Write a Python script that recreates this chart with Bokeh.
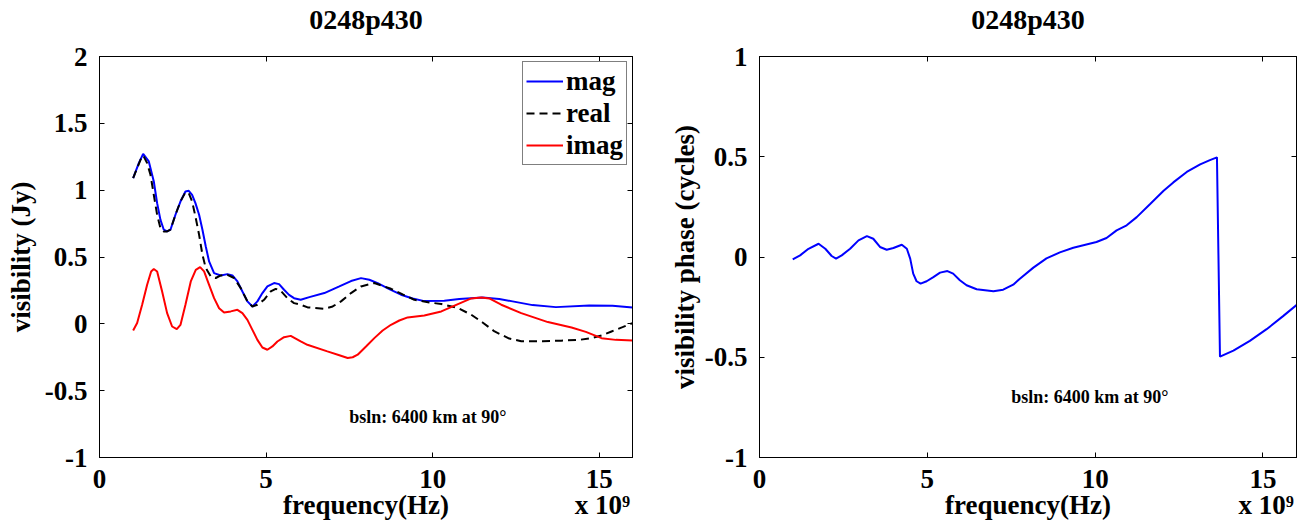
from bokeh.plotting import figure
from bokeh.layouts import row
from bokeh.models import FixedTicker, LinearAxis, Label
from bokeh.embed import file_html
from bokeh.resources import INLINE

# ---------------- data (frequency in units of 1e9 Hz) ----------------
mag_f = [1.01, 1.18, 1.31, 1.48, 1.63, 1.73, 1.83, 1.93, 2.03, 2.13, 2.28, 2.43, 2.58, 2.68, 2.78,
         2.88, 2.99, 3.09, 3.19, 3.29, 3.44, 3.64, 3.84, 3.99, 4.14, 4.29, 4.44, 4.59, 4.74, 4.89,
         5.04, 5.24, 5.39, 5.54, 5.69, 5.84, 6.04, 6.3, 6.75, 7.2, 7.55, 7.85, 8.1, 8.35, 8.7, 9.05,
         9.4, 9.75, 10.35, 10.8, 11.5, 12.0, 12.4, 13.0, 13.7, 14.7, 15.4, 16.0]
mag_v = [1.09, 1.202, 1.272, 1.215, 1.065, 0.903, 0.778, 0.704, 0.691, 0.704, 0.816, 0.915, 0.99, 0.995, 0.965,
         0.903, 0.816, 0.704, 0.579, 0.467, 0.379, 0.362, 0.372, 0.362, 0.317, 0.242, 0.168, 0.13, 0.168, 0.23,
         0.28, 0.305, 0.297, 0.255, 0.217, 0.192, 0.18, 0.2, 0.23, 0.28, 0.32, 0.342, 0.33, 0.305, 0.26, 0.218,
         0.19, 0.17, 0.173, 0.185, 0.197, 0.185, 0.168, 0.14, 0.125, 0.137, 0.135, 0.123]

real_f = [1.01, 1.23, 1.31, 1.43, 1.53, 1.63, 1.73, 1.83, 1.93, 2.03, 2.13, 2.28, 2.43, 2.58, 2.68,
          2.78, 2.88, 2.99, 3.09, 3.19, 3.34, 3.49, 3.64, 3.84, 4.04, 4.24, 4.44, 4.59, 4.74, 4.94,
          5.14, 5.29, 5.44, 5.64, 5.84, 6.04, 6.25, 6.75, 7.0, 7.25, 7.55, 7.85, 8.25, 8.75, 9.1,
          9.45, 9.9, 10.26, 10.76, 11.16, 11.5, 11.86, 12.3, 12.66, 13.3, 13.86, 14.4, 14.77, 15.1,
          15.37, 15.7, 16.0]
real_v = [1.09, 1.227, 1.26, 1.202, 1.115, 0.965, 0.816, 0.716, 0.691, 0.691, 0.704, 0.816, 0.915, 0.985, 0.978,
          0.915, 0.803, 0.666, 0.517, 0.417, 0.355, 0.343, 0.362, 0.367, 0.343, 0.267, 0.168, 0.13, 0.143, 0.18,
          0.242, 0.262, 0.247, 0.192, 0.155, 0.143, 0.123, 0.113, 0.13, 0.168, 0.23, 0.28, 0.305, 0.262, 0.22,
          0.18, 0.16, 0.148, 0.118, 0.068, 0.01, -0.057, -0.11, -0.13, -0.13, -0.126, -0.12, -0.107, -0.085,
          -0.057, -0.025, 0.005]

imag_f = [1.01, 1.13, 1.28, 1.43, 1.55, 1.63, 1.73, 1.88, 2.03, 2.18, 2.32, 2.43, 2.58, 2.74, 2.89,
          3.02, 3.14, 3.29, 3.44, 3.59, 3.74, 3.94, 4.14, 4.29, 4.44, 4.59, 4.74, 4.89, 5.04, 5.19,
          5.34, 5.54, 5.74, 6.04, 6.24, 6.84, 7.2, 7.45, 7.6, 7.75, 8.0, 8.25, 8.5, 8.75, 9.0, 9.25,
          9.75, 10.26, 10.76, 11.16, 11.46, 11.7, 12.06, 12.66, 13.46, 14.17, 14.6, 15.07, 15.5, 16.0]
imag_v = [-0.05, 0.006, 0.143, 0.292, 0.392, 0.41, 0.392, 0.242, 0.08, -0.02, -0.04, -0.008, 0.143, 0.317, 0.404,
          0.424, 0.392, 0.292, 0.192, 0.117, 0.085, 0.093, 0.105, 0.08, 0.03, -0.045, -0.12, -0.177, -0.194, -0.169,
          -0.132, -0.1, -0.09, -0.132, -0.157, -0.206, -0.235, -0.256, -0.25, -0.231, -0.17, -0.107, -0.05, -0.007,
          0.025, 0.048, 0.063, 0.093, 0.148, 0.19, 0.197, 0.19, 0.143, 0.08, 0.013, -0.027, -0.06, -0.107, -0.12, -0.124]

phase_f = [0.99, 1.21, 1.46, 1.76, 1.96, 2.15, 2.28, 2.45, 2.7, 2.95, 3.2, 3.39, 3.59, 3.79, 3.99, 4.24,
           4.39, 4.49, 4.58, 4.68, 4.8, 4.98, 5.18, 5.38, 5.6, 5.77, 5.97, 6.17, 6.47, 6.97, 7.26, 7.56,
           7.74, 8.16, 8.55, 8.95, 9.35, 9.65, 10.04, 10.34, 10.64, 10.94, 11.24, 11.64, 12.04, 12.33,
           12.73, 13.13, 13.42, 13.63, 13.72, 14.12, 14.61, 15.11, 15.6, 16.0]
phase_v = [-0.012, 0.008, 0.041, 0.066, 0.041, 0.005, -0.008, 0.008, 0.041, 0.083, 0.104, 0.091, 0.05, 0.036,
           0.045, 0.061, 0.041, -0.008, -0.083, -0.121, -0.133, -0.121, -0.1, -0.078, -0.07, -0.083, -0.116,
           -0.141, -0.161, -0.171, -0.163, -0.138, -0.111, -0.053, -0.007, 0.023, 0.046, 0.059, 0.075, 0.095,
           0.133, 0.158, 0.199, 0.264, 0.33, 0.372, 0.424, 0.462, 0.483, 0.497, -0.497, -0.467, -0.418, -0.36,
           -0.295, -0.24]

x_ticks = [0, 5, 10, 15]
x_tick_labels = ["0", "5", "10", "15"]
left_y_ticks = [-1, -0.5, 0, 0.5, 1, 1.5, 2]
left_y_labels = ["-1", "-0.5", "0", "0.5", "1", "1.5", "2"]
right_y_ticks = [-1, -0.5, 0, 0.5, 1]
right_y_labels = ["-1", "-0.5", "0", "0.5", "1"]

title_text = "0248p430"
title_pos = 8.0
note_text = "bsln: 6400 km at 90\u00b0"
x_label_text = "frequency(Hz)"
x_label_pos = 8.0
x_scale_text = "x 10\u2079"
x_scale_pos = 15.1

FONT = "Liberation Serif"
FS = "27px"


def text_axis(labels, size, standoff):
    ticks = list(labels.keys())
    ax = LinearAxis(ticker=FixedTicker(ticks=ticks))
    ax.major_label_overrides = labels
    ax.major_label_text_font = FONT
    ax.major_label_text_font_size = size
    ax.major_label_text_font_style = "bold"
    ax.major_label_text_color = "black"
    ax.major_label_standoff = standoff
    ax.major_tick_in = 0
    ax.major_tick_out = 0
    ax.minor_tick_in = 0
    ax.minor_tick_out = 0
    ax.axis_line_color = None
    ax.major_tick_line_color = None
    ax.minor_tick_line_color = None
    return ax


def style(p, yticks, ylabels, ylabel, ylabel_standoff):
    p.xgrid.visible = False
    p.ygrid.visible = False
    p.outline_line_color = "black"
    p.outline_line_width = 1
    p.outline_line_alpha = 1
    p.background_fill_color = "white"
    p.border_fill_color = "white"

    for ax, ticks, labels in ((p.xaxis[0], x_ticks, x_tick_labels), (p.yaxis[0], yticks, ylabels)):
        ax.ticker = FixedTicker(ticks=ticks)
        ax.major_label_overrides = {t: l for t, l in zip(ticks, labels)}
        ax.major_tick_in = 5
        ax.major_tick_out = 0
        ax.minor_tick_in = 0
        ax.minor_tick_out = 0
        ax.axis_line_color = "black"
        ax.major_tick_line_color = "black"
        ax.major_label_text_font = FONT
        ax.major_label_text_font_size = FS
        ax.major_label_text_font_style = "bold"
        ax.major_label_text_color = "black"
        ax.axis_label_text_font = FONT
        ax.axis_label_text_font_size = FS
        ax.axis_label_text_font_style = "bold"
        ax.axis_label_text_color = "black"
    p.yaxis[0].axis_label = ylabel
    p.xaxis[0].major_label_standoff = 12
    p.yaxis[0].major_label_standoff = 12
    p.yaxis[0].axis_label_standoff = ylabel_standoff

    # row below the tick labels: axis title and the "x 10^9" scale note
    p.add_layout(text_axis({x_label_pos: x_label_text, x_scale_pos: x_scale_text}, FS, -1), "below")

    # box ticks on top and right
    for loc, ticks in (("above", x_ticks), ("right", yticks)):
        ax = LinearAxis(ticker=FixedTicker(ticks=ticks))
        ax.major_label_overrides = {t: "" for t in ticks}
        ax.major_label_text_font_size = "1px"
        ax.major_label_standoff = 0
        ax.major_tick_in = 5
        ax.major_tick_out = 0
        ax.minor_tick_in = 0
        ax.minor_tick_out = 0
        ax.axis_line_color = "black"
        ax.major_tick_line_color = "black"
        p.add_layout(ax, loc)

    # chart title, drawn as a text row above the frame
    p.add_layout(text_axis({title_pos: title_text}, "28px", 22), "above")

    p.add_layout(Label(x=7.5, y=-0.7, text=note_text, text_font=FONT, text_font_size="18px",
                       text_font_style="bold", text_baseline="middle", text_align="left",
                       text_color="black"))


p1 = figure(frame_width=533, frame_height=401, x_range=(0, 16), y_range=(-1, 2),
            output_backend="svg", toolbar_location=None,
            min_border_left=99, min_border_right=27, min_border_top=55, min_border_bottom=75)
style(p1, left_y_ticks, left_y_labels, "visibility (Jy)", 6)
p1.line(mag_f, mag_v, line_color="#0000ff", line_width=2, legend_label="mag")
p1.line(real_f, real_v, line_color="black", line_width=2, line_dash="8 5", legend_label="real")
p1.line(imag_f, imag_v, line_color="#ff0000", line_width=2, legend_label="imag")
lg = p1.legend[0]
lg.location = "top_right"
lg.margin = 5
lg.padding = 3
lg.spacing = 0
lg.glyph_width = 37
lg.glyph_height = 32
lg.label_height = 32
lg.label_standoff = 3
lg.label_text_font = FONT
lg.label_text_font_size = FS
lg.label_text_font_style = "bold"
lg.label_text_color = "black"
lg.border_line_color = "black"
lg.border_line_width = 1
lg.background_fill_alpha = 1

p2 = figure(frame_width=537, frame_height=401, x_range=(0, 16), y_range=(-1, 1),
            output_backend="svg", toolbar_location=None,
            min_border_left=100, min_border_right=10, min_border_top=55, min_border_bottom=75)
style(p2, right_y_ticks, right_y_labels, "visibility phase (cycles)", 2)
p2.line(phase_f, phase_v, line_color="#0000ff", line_width=2)

layout = row(p1, p2)
open("out.html", "w").write(file_html(layout, INLINE))
